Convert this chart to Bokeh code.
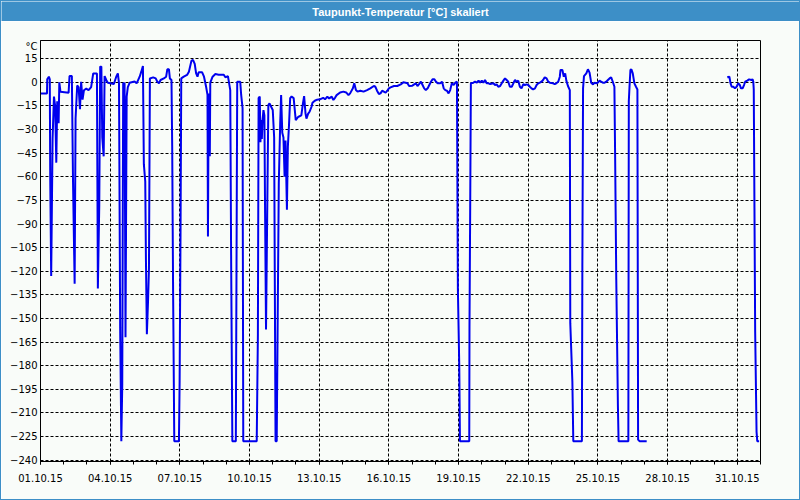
import math
from bokeh.plotting import figure
from bokeh.layouts import column
from bokeh.models import FixedTicker, Range1d
from bokeh.core.properties import value
from bokeh.embed import file_html
from bokeh.resources import INLINE

title_text = "Taupunkt-Temperatur [°C] skaliert"
unit_label = "°C"
unit_label_pos = 22.5
date_ticks = [0, 3, 6, 9, 12, 15, 18, 21, 24, 27, 30]
date_labels = ["01.10.15", "04.10.15", "07.10.15", "10.10.15", "13.10.15", "16.10.15",
               "19.10.15", "22.10.15", "25.10.15", "28.10.15", "31.10.15"]
day_minor_ticks = list(range(0, 32))
y_ticks = list(range(-240, 16, 15))

# days since 01.10.15 00:00
days = [
    0.00, 0.28, 0.29, 0.36, 0.40, 0.42, 0.46, 0.52, 0.58, 0.63, 0.68, 0.72, 0.78, 0.81, 0.86,
    1.21, 1.25, 1.35, 1.40, 1.47, 1.51, 1.58, 1.64, 1.70, 1.75, 1.81, 1.87, 1.97, 2.07, 2.18,
    2.27, 2.43, 2.47, 2.53, 2.57, 2.62, 2.66, 2.72, 2.76, 2.83, 2.90, 3.16, 3.26, 3.33, 3.38,
    3.43, 3.48, 3.52, 3.56, 3.62, 3.66, 3.71, 3.76, 3.84, 4.05, 4.14, 4.27, 4.34, 4.41, 4.45,
    4.51, 4.54, 4.58, 4.63, 4.67, 4.71, 4.85,
    4.96, 5.03, 5.10, 5.17, 5.31, 5.41, 5.46, 5.53, 5.57, 5.64, 5.67, 5.71, 5.76, 5.96, 5.99,
    6.03, 6.06, 6.17, 6.31, 6.39, 6.50, 6.57, 6.64, 6.70, 6.76, 6.81, 6.96, 7.04, 7.13, 7.19,
    7.21, 7.24, 7.29, 7.31, 7.41, 7.53, 7.67, 7.89, 7.96, 8.07, 8.17, 8.21, 8.26, 8.41, 8.44,
    8.47, 8.60, 8.64, 8.70, 8.73, 9.31, 9.36, 9.39, 9.44, 9.47, 9.50, 9.53, 9.56, 9.60, 9.64,
    9.67, 9.71, 9.76, 9.81,
    9.86, 10.00, 10.06, 10.12, 10.17, 10.26, 10.32, 10.36, 10.41, 10.46, 10.51, 10.55, 10.61,
    10.65, 10.70, 10.75, 10.81, 10.90, 10.99, 11.09, 11.23, 11.30, 11.35, 11.41, 11.45, 11.52,
    11.59, 11.67, 11.71, 11.81, 11.91, 12.03, 12.17, 12.25, 12.35, 12.43, 12.54, 12.61, 12.68,
    12.75, 12.90, 13.04, 13.16, 13.26, 13.33, 13.45, 13.51, 13.58, 13.65, 13.77, 13.91, 14.06,
    14.20, 14.35, 14.42, 14.49, 14.57, 14.64, 14.71, 14.78, 14.86, 14.93, 15.00, 15.07, 15.22,
    15.36, 15.51, 15.62, 15.72, 15.80, 15.87, 16.01, 16.09, 16.16, 16.23, 16.30, 16.38, 16.45,
    16.52, 16.59, 16.67, 16.74, 16.81, 16.88, 16.96, 17.03, 17.10,
    17.21, 17.29, 17.36, 17.43, 17.50, 17.57, 17.64, 17.71, 17.79, 17.86, 17.93, 17.97, 18.03,
    18.06, 18.46, 18.47, 18.50, 18.53, 18.64, 18.71, 18.79, 18.86, 18.93, 19.00, 19.07, 19.14,
    19.21, 19.29, 19.36, 19.50, 19.57, 19.64, 19.71, 19.79, 19.86, 19.93, 20.00, 20.07, 20.14,
    20.21, 20.29, 20.36, 20.43, 20.50, 20.57, 20.64, 20.71, 20.79, 20.86, 20.93, 21.00, 21.07,
    21.14, 21.21, 21.29, 21.36, 21.43, 21.50, 21.57, 21.64, 21.71, 21.79, 21.86, 21.93, 22.07,
    22.14, 22.21, 22.29, 22.36, 22.39, 22.47, 22.53, 22.59, 22.64, 22.71, 22.79, 22.81, 22.90,
    22.94, 23.31, 23.33, 23.36, 23.40, 23.50, 23.57, 23.64, 23.71, 23.79, 23.86, 23.93, 24.00,
    24.07, 24.14, 24.21, 24.29, 24.36, 24.43, 24.50, 24.57, 24.64, 24.71, 24.74, 24.79, 24.86,
    24.89, 25.31, 25.33, 25.36, 25.40, 25.44, 25.50, 25.57, 25.64, 25.70, 25.73, 25.79, 26.10,
    27.80,
    29.57, 29.66, 29.71, 29.76, 29.83, 29.90, 29.97, 30.04, 30.11, 30.16, 30.23, 30.29, 30.34,
    30.43, 30.51, 30.61, 30.66, 30.69, 30.71, 30.74, 30.77, 30.83, 30.86, 30.94,
]

dewpoint = [
    -7.0, -7.0, 1.9, 3.6, 1.9, -62, -123, -36, -9, -15, -51, -12, -26, 0.0, -6.0,
    -6.6, 4.0, 4.0, -63, -128, -23, -2, -3, -17, 0.4, -11, -5, -4, -5, -3,
    5.7, 5.7, -131, -78, 10, 10, -35, -47, 4, 1.5, -0.2, -1, 3.6, 5.7, -0.6,
    -156, -228, -192, -0.6, -0.6, -162, -9, -3, -0.2, 0.6, -0.6, 3.6, 6.8, 10.4, -52,
    -63, -113, -160, -139, -118, 2.5, 3.2,
    2.5, 0.4, -0.6, 1.5, 2.5, 3.6, 8.3, 8.3, 2.5, 1.5, -40.5, -134, -228, -228, -190,
    -93, 2.5, 3.6, 4.7, 6.8, 13.8, 14.2, 11.7, 5.7, 3.6, 6.4, 6.4, 3.6, -2.8, -8,
    -98, -7, -47, -0.2, 3.6, 5.3, 4.9, 4.9, 3.2, 4.0, -4.9, -117, -228, -228, -115,
    0.4, 0.4, -8, -16.4, -228, -228, -160, -10, -9, -38, -24, -36, -24, -17.6, -21,
    -83, -157, -85, -14.4,
    -13.4, -17.6, -35, -228, -228, -64, -26, -8, -32, -35, -60, -37, -81,
    -41, -27, -10, -9, -10, -24, -22, -21, -13.4, -8.7, -19.7, -23, -20,
    -18.5, -15.5, -13, -11.7, -11, -10.8, -9.8, -10.8, -9.1, -10.2, -9.1, -11.2, -9.8,
    -8.1, -6.4, -5.9, -6.4, -8.1, -7, -3.8, -0.6, -4.9, -5.9, -5.3, -5.9, -4.9,
    -3.8, -2.3, -2.8, -5.3, -7.4, -7, -5.3, -5.9, -6.6, -5.3, -3.8, -3.2, -2.3,
    -2.3, -1.3, 0, -0.2, -0.6, -2.3, -2.1, -1.3, -0.6, -2.3, -1.1, 0.4, -1.7,
    -3.8, -4.9, -3.8, -1.7, 0.4, 1.9, 1.9, 0.4, -0.6,
    -0.6, 0.4, -3.8, -4.9, -5.3, -7, -4.9, -0.6, -1.7, -0.2, 0.4, -131, -180,
    -228, -228, -155, -82, -0.6, -0.2, 0.4, -0.2, 1.1, -0.2, 1.1, -0.2, 1.5,
    -0.6, -0.6, -1.1, -0.6, -1.7, -1.3, -2.8, -2.3, -0.6, 1.1, 2.5, 1.5, 0.4,
    -2.8, -2.8, -0.6, 1.5, 0.4, 1.1, -2.8, -3.8, -1.1, -1.7, -1.3, -1.7, -2.8,
    -3.8, -4.5, -3.8, -1.7, -0.6, -0.2, 0.4, 1.5, 3.2, 2.5, 0.4, -0.2, -0.6,
    -1.1, -0.6, 0.4, 3.6, 7.9, 7.9, 3.6, 5.7, 1.1, -2.3, -4.9, -153, -190,
    -228, -228, -117, -3.8, 4.0, 5.7, 8.3, 6.2, -0.2, -1.3, -0.2, -0.6, -0.2,
    1.1, 0.4, -0.2, -0.2, 0.4, 1.5, 2.5, 3.2, 0.4, -2.8, -45, -125, -205,
    -228, -228, -12, -2.8, 7.9, 8.3, 5.7, -0.6, -2.8, -4.5, -227, -228, -228,
    float("nan"),
    3.2, 3.6, -0.6, -2.8, -2.8, -3.8, -2.8, -0.6, -1.7, -3.8, -3.8, -1.7, 0.4,
    1.1, 1.9, 1.5, 1.9, 0.4, -4.5, -80, -158, -222, -228, -228,
]

TITLE_BLUE = "#3d8fc7"
BG = "#f9fcf9"
LINE_BLUE = "#0000ee"

head = figure(width=798, height=20, x_range=Range1d(0, 1), y_range=Range1d(0, 1),
              toolbar_location=None, output_backend="svg",
              x_axis_type=None, y_axis_type=None, min_border=0)
head.background_fill_color = TITLE_BLUE
head.border_fill_color = TITLE_BLUE
head.outline_line_color = None
head.xgrid.visible = False
head.ygrid.visible = False
head.text(x=[0.5], y=[0.5], text=[title_text], text_color="white",
          text_font=value("Liberation Sans"), text_font_style="bold",
          text_font_size="11px", text_align="center", text_baseline="middle")

p = figure(width=798, height=478, x_range=Range1d(0, 31), y_range=Range1d(-240.9, 26.6),
           toolbar_location=None, output_backend="svg",
           min_border_left=39, min_border_right=39, min_border_top=19, min_border_bottom=38)
p.background_fill_color = BG
p.border_fill_color = BG
p.outline_line_color = "black"
p.outline_line_width = 1

p.xaxis.ticker = FixedTicker(ticks=date_ticks, minor_ticks=day_minor_ticks)
p.xaxis.major_label_overrides = {t: l for t, l in zip(date_ticks, date_labels)}
p.yaxis.ticker = FixedTicker(ticks=y_ticks + [unit_label_pos])
p.yaxis.major_label_overrides = {unit_label_pos: unit_label}
p.xgrid.ticker = FixedTicker(ticks=date_ticks)
p.ygrid.ticker = FixedTicker(ticks=y_ticks)

for g in (p.xgrid, p.ygrid):
    g.grid_line_color = "black"
    g.grid_line_dash = "3 2"
    g.grid_line_width = 1

for ax in (p.xaxis, p.yaxis):
    ax.axis_line_color = "black"
    ax.major_label_text_font = "DejaVu Sans"
    ax.major_label_text_font_size = "10px"
    ax.major_label_text_color = "black"
    ax.major_tick_line_color = "black"
    ax.minor_tick_line_color = "black"
    ax.major_tick_in = 0
    ax.minor_tick_in = 0

p.xaxis.major_tick_out = 3
p.xaxis.minor_tick_out = 3
p.xaxis.major_label_standoff = 9
p.yaxis.major_tick_out = 0
p.yaxis.minor_tick_out = 0
p.yaxis.major_label_standoff = 3

p.line(days, dewpoint, line_color=LINE_BLUE, line_width=2)

layout = column(column(head, spacing=0), p, spacing=0,
                styles={"border": "1px solid " + TITLE_BLUE})

open("out.html", "w").write(file_html(layout, INLINE))
